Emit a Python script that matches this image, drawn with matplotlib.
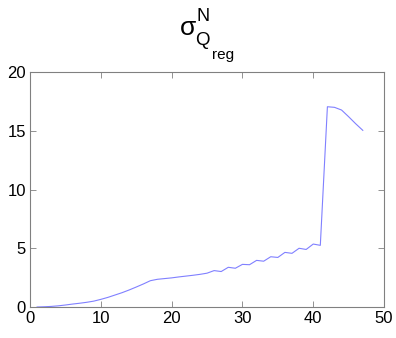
import matplotlib
matplotlib.use('Agg')
import matplotlib.pyplot as plt

# iteration index and sigma values
x = list(range(1, 48))
sigma = [0.00, 0.02, 0.05, 0.10, 0.17, 0.25, 0.32, 0.40, 0.50, 0.65,
         0.82, 1.02, 1.22, 1.45, 1.70, 1.96, 2.24, 2.36, 2.42, 2.48,
         2.56, 2.63, 2.70, 2.78, 2.88, 3.10, 3.02, 3.38, 3.30, 3.63,
         3.60, 3.97, 3.90, 4.28, 4.22, 4.65, 4.57, 5.00, 4.90, 5.36,
         5.25, 17.05, 17.00, 16.77, 16.20, 15.60, 15.04]

xticks = [0, 10, 20, 30, 40, 50]
yticks = [0, 5, 10, 15, 20]

plt.rcParams['font.family'] = ['Liberation Sans', 'DejaVu Sans']

fig = plt.figure(figsize=(3.96, 3.38), dpi=100)
ax = fig.add_axes([0.0758, 0.0917, 0.894, 0.695])

ax.plot(x, sigma, color='#8080ff', linewidth=0.8)

ax.set_xlim(0, 50)
ax.set_ylim(0, 20)
ax.set_xticks(xticks)
ax.set_yticks(yticks)
ax.tick_params(direction='in', length=4, width=0.6, color='#808080',
               labelsize=12, top=True, right=True, pad=3)
for s in ax.spines.values():
    s.set_color('#808080')
    s.set_linewidth(0.8)

# title pieces: sigma with superscript N and subscript Q_reg
fig.text(0.4550, 0.8964, '\u03c3', fontsize=19, ha='left', va='baseline')
fig.text(0.4967, 0.9393, 'N', fontsize=13, ha='left', va='baseline')
fig.text(0.4924, 0.8669, 'Q', fontsize=13.5, ha='left', va='baseline')
fig.text(0.5346, 0.8254, 'reg', fontsize=11, ha='left', va='baseline')

fig.savefig('out.png', dpi=100)
